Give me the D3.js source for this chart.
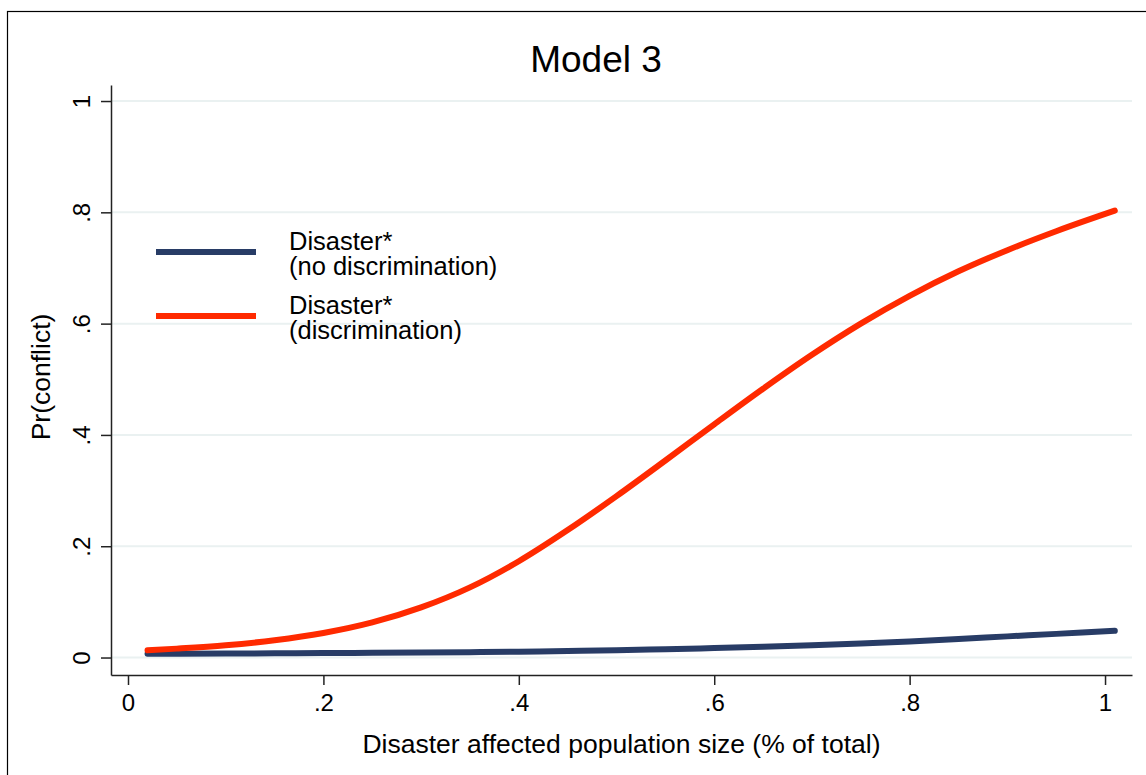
<!DOCTYPE html>
<html>
<head>
<meta charset="utf-8">
<script src="https://cdn.jsdelivr.net/npm/d3@7"></script>
<style>
  body { margin: 0; background: #fff; }
  text { font-family: "Liberation Sans", Arial, Helvetica, sans-serif; fill: #000; }
</style>
</head>
<body>
<div id="chart"></div>
<script>
// 1: DATA
const xValues = [0.02, 0.05, 0.1, 0.15, 0.2, 0.25, 0.3, 0.35, 0.4, 0.45, 0.5, 0.55, 0.6, 0.65, 0.7, 0.75, 0.8, 0.85, 0.9, 0.95, 1.01];
const noDiscrimination = [0.007, 0.007, 0.0072, 0.0076, 0.008, 0.0085, 0.009, 0.0097, 0.0105, 0.0117, 0.013, 0.015, 0.017, 0.0193, 0.022, 0.0253, 0.029, 0.0333, 0.038, 0.0425, 0.048];
const discrimination = [0.013, 0.016, 0.022, 0.031, 0.044, 0.063, 0.090, 0.126, 0.173, 0.229, 0.290, 0.354, 0.419, 0.483, 0.544, 0.600, 0.650, 0.694, 0.732, 0.766, 0.803];
const xTicks = [0, 0.2, 0.4, 0.6, 0.8, 1];
const yTicks = [0, 0.2, 0.4, 0.6, 0.8, 1];
const seriesNames = ["no discrimination", "discrimination"];
const seriesColors = ["#283c66", "#ff2a00"];

const fmt = d => d === 0 ? "0" : d === 1 ? "1" : d3.format(".1f")(d).replace(/^0/, "");

// 2: LAYOUT
const W = 1146, H = 775;
const margin = { top: 85, right: 14, bottom: 100, left: 111 };
const width = W - margin.left - margin.right;
const height = H - margin.top - margin.bottom;

const svg = d3.select("#chart").append("svg")
    .attr("width", W)
    .attr("height", H);

// outer frame (cut off at the right and bottom like the original)
svg.append("rect")
    .attr("x", 7.5).attr("y", 11.5)
    .attr("width", W + 20).attr("height", H + 20)
    .attr("fill", "none")
    .attr("stroke", "#000")
    .attr("stroke-width", 1.2);

const g = svg.append("g")
    .attr("transform", `translate(${margin.left},${margin.top})`);

// 3: SCALES
const xScale = d3.scaleLinear().domain([-0.0174, 1.0276]).range([0, width]);
const yScale = d3.scaleLinear().domain([-0.0314, 1.0288]).range([height, 0]);

// 4: GRIDLINES
g.selectAll(".grid")
    .data(yTicks)
    .enter()
    .append("line")
    .attr("x1", 0).attr("x2", width)
    .attr("y1", d => yScale(d)).attr("y2", d => yScale(d))
    .attr("stroke", "#eaf1f1")
    .attr("stroke-width", 2);

// 5: LINES
const series = [
    { name: seriesNames[0], values: noDiscrimination, color: seriesColors[0] },
    { name: seriesNames[1], values: discrimination, color: seriesColors[1] }
];

const line = d3.line()
    .x((d, i) => xScale(xValues[i]))
    .y(d => yScale(d))
    .curve(d3.curveMonotoneX);

g.selectAll(".line")
    .data(series)
    .enter()
    .append("path")
    .attr("d", d => line(d.values))
    .attr("fill", "none")
    .attr("stroke", d => d.color)
    .attr("stroke-width", 6)
    .attr("stroke-linecap", "round")
    .attr("stroke-linejoin", "round");

// 6: AXES
const xAxis = g.append("g")
    .attr("transform", `translate(0,${height})`)
    .call(d3.axisBottom(xScale).tickValues(xTicks).tickFormat(fmt).tickSize(10).tickSizeOuter(0));

xAxis.selectAll("text")
    .attr("y", 36).attr("dy", 0)
    .style("font-size", "24px");

const yAxis = g.append("g")
    .call(d3.axisLeft(yScale).tickValues(yTicks).tickFormat(fmt).tickSize(10).tickSizeOuter(0));

yAxis.selectAll("text")
    .attr("transform", "rotate(-90)")
    .attr("x", 0).attr("y", -21).attr("dy", 0)
    .attr("text-anchor", "middle")
    .style("font-size", "24px");

g.selectAll(".domain, .tick line")
    .attr("stroke", "#222")
    .attr("stroke-width", 1.5);

// 7: LABELS
svg.append("text")
    .attr("x", 596).attr("y", 72)
    .attr("text-anchor", "middle")
    .style("font-size", "37px")
    .text("Model 3");

svg.append("text")
    .attr("x", margin.left + width / 2).attr("y", 753)
    .attr("text-anchor", "middle")
    .style("font-size", "26.5px")
    .text("Disaster affected population size (% of total)");

svg.append("text")
    .attr("transform", "rotate(-90)")
    .attr("x", -377).attr("y", 50)
    .attr("text-anchor", "middle")
    .style("font-size", "26.5px")
    .text("Pr(conflict)");

// 8: LEGEND
const legend = svg.selectAll(".legend")
    .data(series)
    .enter()
    .append("g")
    .attr("transform", (d, i) => `translate(156, ${252 + i * 64})`);

legend.append("line")
    .attr("x1", 0).attr("x2", 100)
    .attr("y1", 0).attr("y2", 0)
    .attr("stroke", d => d.color)
    .attr("stroke-width", 6);

legend.append("text")
    .attr("x", 133).attr("y", -2)
    .style("font-size", "25.5px")
    .text("Disaster*");

legend.append("text")
    .attr("x", 133).attr("y", 23)
    .style("font-size", "25.5px")
    .text(d => `(${d.name})`);
</script>
</body>
</html>
